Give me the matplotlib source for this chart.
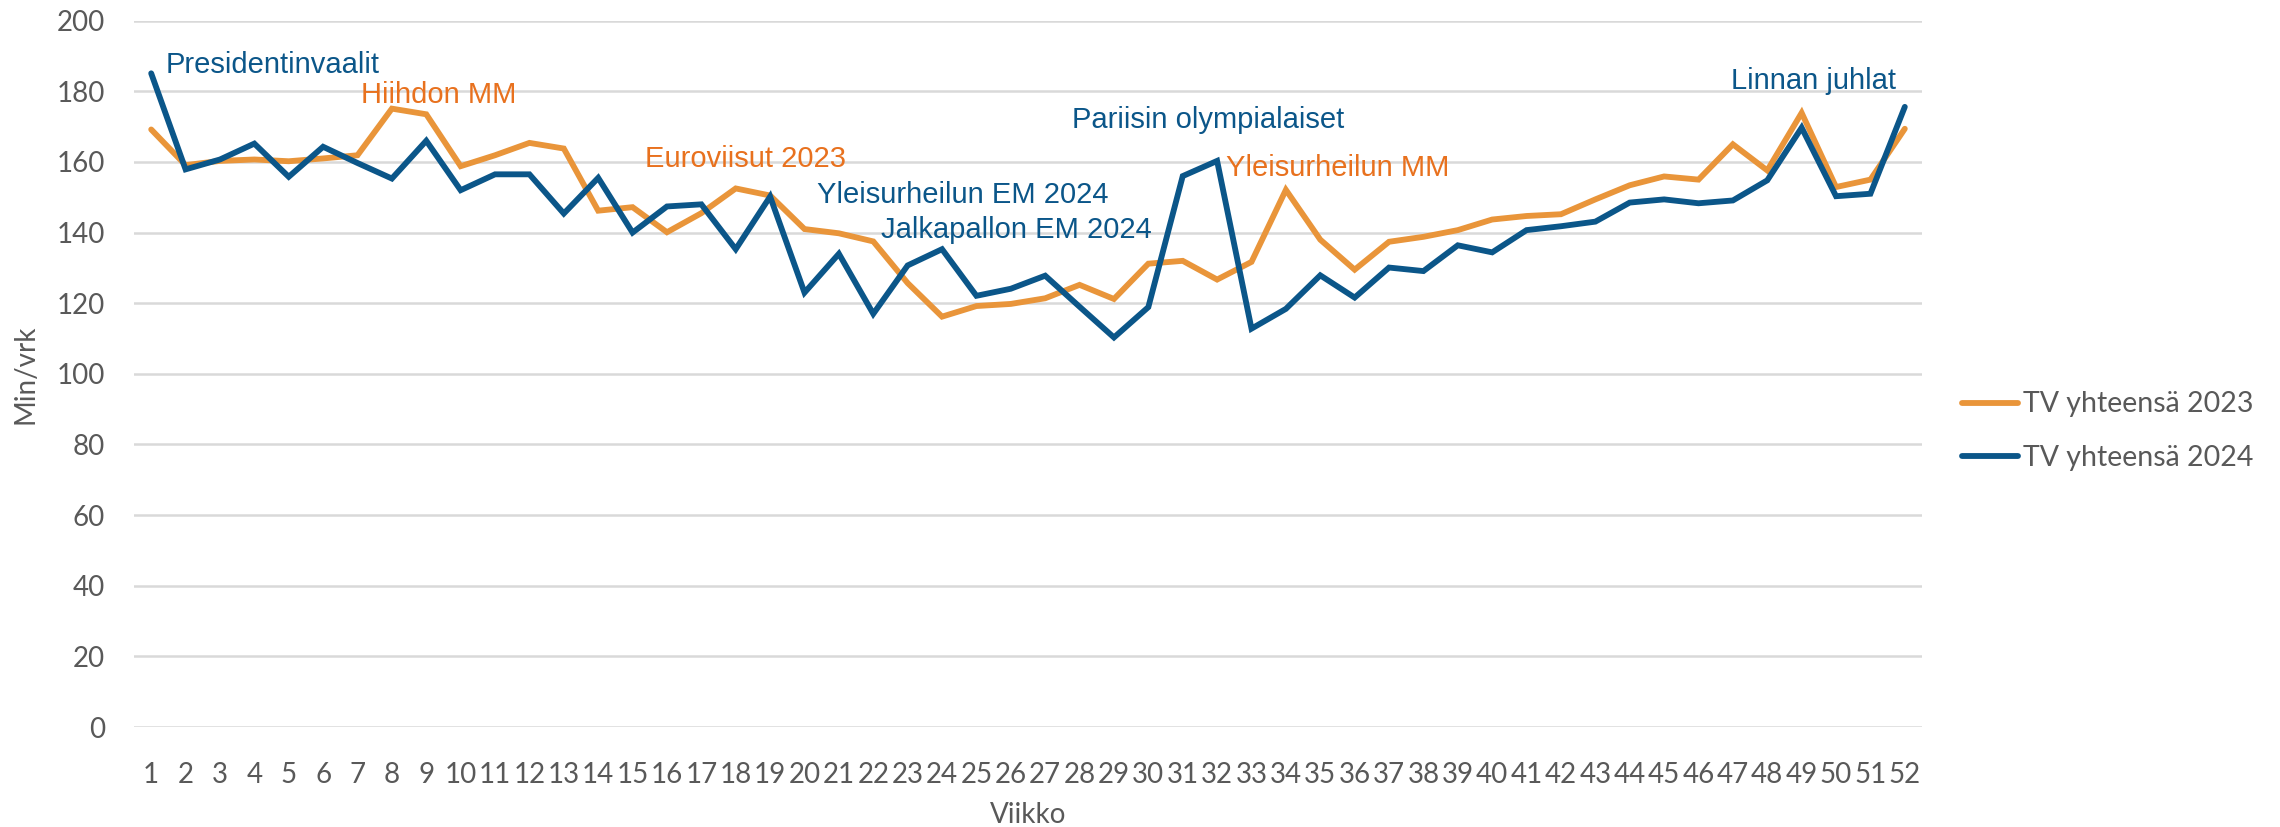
import matplotlib
matplotlib.use("Agg")
import matplotlib.pyplot as plt

weeks = list(range(1, 53))
week_labels = [str(w) for w in weeks]

tv_2023 = [169.2, 159.1, 160.3, 160.7, 160.2, 161.0, 161.9, 175.1, 173.5, 158.8,
           161.9, 165.4, 163.8, 146.2, 147.2, 140.1, 145.5, 152.5, 150.5, 141.0,
           139.8, 137.5, 125.7, 116.2, 119.2, 119.8, 121.4, 125.2, 121.2, 131.2,
           132.0, 126.7, 131.7, 152.1, 138.0, 129.5, 137.4, 138.8, 140.7, 143.7,
           144.7, 145.2, 149.4, 153.4, 155.9, 155.0, 165.0, 157.6, 173.9, 152.9,
           155.0, 169.4]
tv_2024 = [185.1, 157.9, 160.7, 165.2, 155.8, 164.3, 159.7, 155.3, 166.0, 152.0,
           156.5, 156.5, 145.4, 155.5, 140.0, 147.4, 148.0, 135.3, 150.2, 123.0,
           134.0, 117.0, 130.7, 135.3, 122.1, 124.1, 127.8, 119.0, 110.3, 118.9,
           156.0, 160.3, 112.8, 118.4, 127.9, 121.6, 130.1, 129.1, 136.4, 134.4,
           140.7, 141.8, 143.1, 148.5, 149.4, 148.3, 149.1, 154.8, 169.7, 150.3,
           151.0, 175.6]

series_names = ["TV yhteensä 2023", "TV yhteensä 2024"]

ann_texts = ["Presidentinvaalit", "Hiihdon MM", "Euroviisut 2023", "Yleisurheilun EM 2024",
             "Jalkapallon EM 2024", "Pariisin olympialaiset", "Yleisurheilun MM", "Linnan juhlat"]
ann_x = [1.41, 7.11, 15.37, 20.37, 22.23, 27.78, 32.26, 46.94]
ann_y = [187.5, 179.0, 160.9, 150.7, 140.6, 172.0, 158.3, 183.0]
ann_series = [2024, 2023, 2023, 2024, 2024, 2024, 2023, 2024]

yticks = list(range(0, 201, 20))

c_orange = "#E9953A"
c_orange_text = "#E8711E"
c_blue = "#0B5689"
c_gray = "#595959"

fig = plt.figure(figsize=(22.8, 8.27), dpi=100)
ax = fig.add_axes([134/2280, 1-727/827, (1922-134)/2280, (727-20.7)/827])

ax.plot(weeks, tv_2023, color=c_orange, lw=4.2, label=series_names[0], solid_capstyle="round", solid_joinstyle="miter")
ax.plot(weeks, tv_2024, color=c_blue, lw=4.2, label=series_names[1], solid_capstyle="round", solid_joinstyle="miter")

ax.set_xlim(0.5, 52.5)
ax.set_ylim(0, 200)
ax.set_yticks(yticks)
ax.set_xticks(weeks)
ax.set_xticklabels(week_labels)
ax.grid(axis="y", color="#D9D9D9", lw=1.8)
ax.set_axisbelow(True)
for s in ax.spines.values():
    s.set_visible(False)
ax.tick_params(axis="both", length=0, labelsize=20, labelcolor=c_gray)
ax.tick_params(axis="y", pad=21)
ax.tick_params(axis="x", pad=25)
for lab in ax.get_xticklabels() + ax.get_yticklabels():
    lab.set_family("Lato")

ax.set_xlabel("Viikko", fontsize=20, color=c_gray, family="Lato", labelpad=10)
ax.set_ylabel("Min/vrk", fontsize=20, color=c_gray, family="Lato", labelpad=13)

for t, x, y, s in zip(ann_texts, ann_x, ann_y, ann_series):
    col = c_blue if s == 2024 else c_orange_text
    ax.text(x, y, t, color=col, fontsize=21, family="Liberation Sans", ha="left", va="center")

leg = ax.legend(loc="center left", bbox_to_anchor=(1948/2280, 1-431/827), bbox_transform=fig.transFigure,
                frameon=False, handlelength=1.95, handletextpad=0.2, labelspacing=0.95,
                borderpad=0, prop={"family": "Lato", "size": 20.5})
for txt in leg.get_texts():
    txt.set_color(c_gray)

fig.savefig("out.png", dpi=100)
